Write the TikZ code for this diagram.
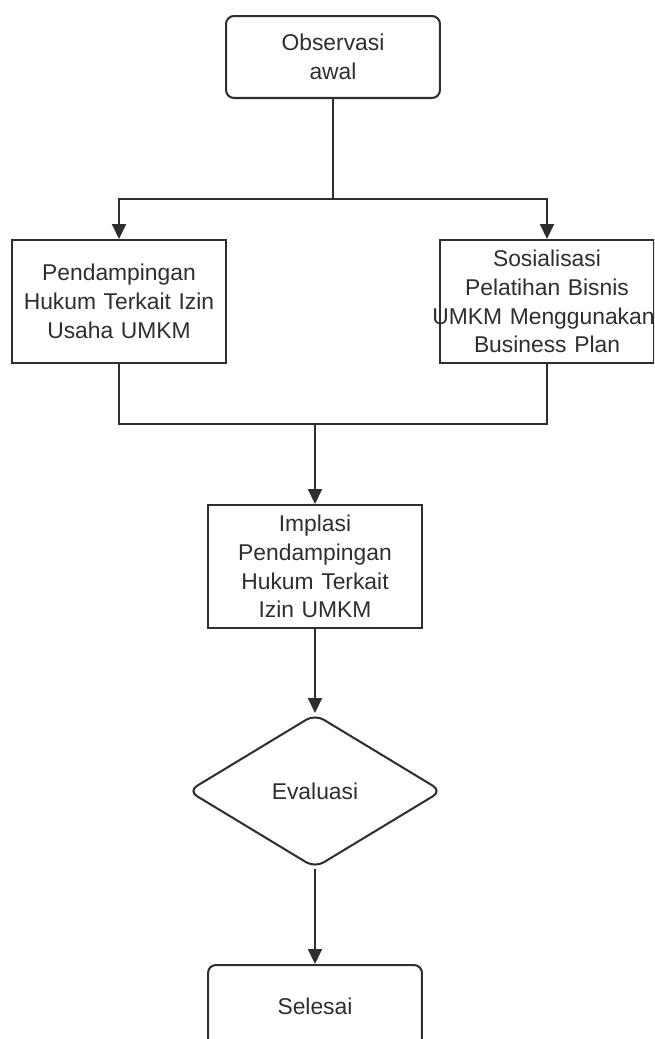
\documentclass[tikz,border=0pt]{standalone}
\usepackage{fontspec}
\setmainfont{Liberation Sans}
\usetikzlibrary{positioning,arrows.meta,shapes.geometric}
\definecolor{ink}{HTML}{2E2E2E}

\begin{document}
\begin{tikzpicture}[x=0.02cm, y=-0.02cm,
  box/.style={draw=ink, line width=1.15pt, text=ink, text width=4.28cm, inner sep=0pt, align=center, font=\fontsize{13}{16.4}\selectfont},
  arr/.style={draw=ink, line width=1.15pt, -{Triangle[width=0.28cm, length=0.3cm]}},
  line/.style={draw=ink, line width=1.15pt}]
\useasboundingbox (0,0) rectangle (654,1039);
\clip (0,0) rectangle (654,1039);

\node[box, rounded corners=0.16cm, minimum height=1.64cm](obs) at (333,57) {Observasi\\awal};
\node[box, minimum height=2.46cm](pend) at (119,301.5) {Pendampingan\\Hukum Terkait Izin\\Usaha UMKM};
\node[box, minimum height=2.46cm](sos) at (547,301.5) {Sosialisasi\\Pelatihan Bisnis\\\makebox[0pt]{\hspace{-0.14cm}UMKM Menggunakan}\\Business Plan};
\node[box, minimum height=2.46cm](impl) at (315,566.5) {Implasi\\Pendampingan\\Hukum Terkait\\Izin UMKM};
\node[diamond, draw=ink, line width=1.15pt, rounded corners=0.2cm, text=ink, minimum width=5.08cm, minimum height=3.08cm, inner sep=0pt, font=\fontsize{13}{16.4}\selectfont](eval) at (315,791) {Evaluasi};
\node[box, rounded corners=0.16cm, minimum height=1.64cm](sel) at (315,1006) {Selesai};

\coordinate (split) at (333,199);
\coordinate (join) at (315,424);

\draw[line] (obs) -- (split);
\draw[arr] (split) -| (pend);
\draw[arr] (split) -| (sos);
\draw[line] (pend) |- (join);
\draw[line] (sos) |- (join);
\draw[arr] (join) -- (impl);
\draw[arr] (impl) -- (eval);
\draw[arr] (eval) -- (sel);
\end{tikzpicture}
\end{document}
